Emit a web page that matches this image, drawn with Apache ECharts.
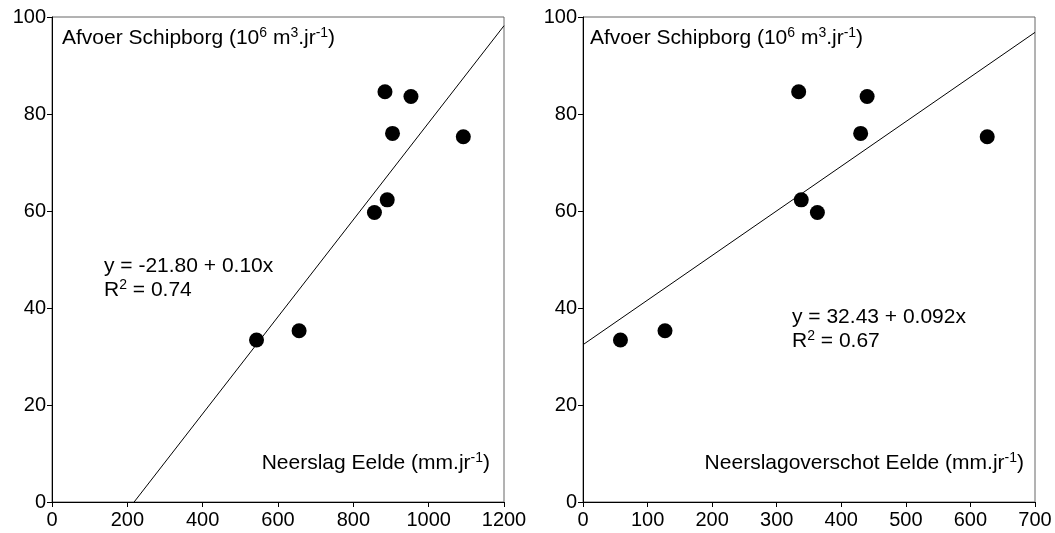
<!DOCTYPE html>
<html>
<head>
<meta charset="utf-8">
<script src="https://cdn.jsdelivr.net/npm/echarts@6/dist/echarts.min.js"></script>
<style>html,body{margin:0;padding:0;background:#fff;}#c{width:1055px;height:533px;}</style>
</head>
<body>
<div id="c"></div>
<script>
// Data
const afvoer = [33.4, 35.3, 59.7, 84.6, 62.3, 76.0, 83.6, 75.3];
const neerslag = [543, 656, 856, 884, 890, 904, 953, 1092];
const neerslagoverschot = [58, 127, 363, 334, 338, 430, 440, 626];
const fitLeft = [[218, 0], [1200, 98.2]];
const fitRight = [[0, 32.43], [700, 96.83]];
const xTicksLeft = {min: 0, max: 1200, interval: 200};
const xTicksRight = {min: 0, max: 700, interval: 100};
const yTicks = {min: 0, max: 100, interval: 20};

const FONT = '"Liberation Sans", Arial, sans-serif';
const leftPts = neerslag.map((x, i) => [x, afvoer[i]]);
const rightPts = neerslagoverschot.map((x, i) => [x, afvoer[i]]);

const rich = {
  n: {fontSize: 21, fontFamily: FONT, color: '#000', lineHeight: 24},
  s: {fontSize: 14, fontFamily: FONT, color: '#000', lineHeight: 14, verticalAlign: 'top'}
};

function axisCommon(extra) {
  return Object.assign({
    type: 'value',
    axisLine: {show: true, onZero: false, lineStyle: {color: '#000', width: 1}},
    axisTick: {show: true, length: 5, inside: false, lineStyle: {color: '#000'}},
    axisLabel: {color: '#000', fontSize: 20, fontFamily: FONT, margin: 6, formatter: v => String(v)},
    splitLine: {show: false}
  }, extra);
}

function txt(x, y, text, align) {
  return {
    type: 'text', x: x, y: y, silent: true,
    style: {text: text, rich: rich, fill: '#000', font: '21px ' + FONT,
      textAlign: align, align: align, textVerticalAlign: 'middle', verticalAlign: 'middle'}
  };
}

const chart = echarts.init(document.getElementById('c'), null, {renderer: 'canvas'});
chart.setOption({
  animation: false,
  backgroundColor: '#fff',
  grid: [
    {left: 52, right: 551, top: 17, bottom: 31, show: true, borderColor: '#666', borderWidth: 1, containLabel: false},
    {left: 583, right: 20, top: 17, bottom: 31, show: true, borderColor: '#666', borderWidth: 1, containLabel: false}
  ],
  xAxis: [
    axisCommon({gridIndex: 0, min: xTicksLeft.min, max: xTicksLeft.max, interval: xTicksLeft.interval,
      axisLabel: {color: '#000', fontSize: 20, fontFamily: FONT, margin: 8, formatter: v => String(v)}}),
    axisCommon({gridIndex: 1, min: xTicksRight.min, max: xTicksRight.max, interval: xTicksRight.interval,
      axisLabel: {color: '#000', fontSize: 20, fontFamily: FONT, margin: 8, formatter: v => String(v)}})
  ],
  yAxis: [
    axisCommon({gridIndex: 0, min: yTicks.min, max: yTicks.max, interval: yTicks.interval}),
    axisCommon({gridIndex: 1, min: yTicks.min, max: yTicks.max, interval: yTicks.interval})
  ],
  series: [
    {type: 'line', xAxisIndex: 0, yAxisIndex: 0, data: fitLeft, symbol: 'none',
      lineStyle: {color: '#000', width: 1}, silent: true},
    {type: 'scatter', xAxisIndex: 0, yAxisIndex: 0, data: leftPts, symbol: 'circle', symbolSize: 15,
      itemStyle: {color: '#000', opacity: 1}},
    {type: 'line', xAxisIndex: 1, yAxisIndex: 1, data: fitRight, symbol: 'none',
      lineStyle: {color: '#000', width: 1}, silent: true},
    {type: 'scatter', xAxisIndex: 1, yAxisIndex: 1, data: rightPts, symbol: 'circle', symbolSize: 15,
      itemStyle: {color: '#000', opacity: 1}}
  ],
  graphic: [
    txt(62, 38, '{n|Afvoer Schipborg (10}{s|6}{n| m}{s|3}{n|.jr}{s|-1}{n|)}', 'left'),
    txt(590, 38, '{n|Afvoer Schipborg (10}{s|6}{n| m}{s|3}{n|.jr}{s|-1}{n|)}', 'left'),
    txt(490, 463, '{n|Neerslag Eelde (mm.jr}{s|-1}{n|)}', 'right'),
    txt(1024, 463, '{n|Neerslagoverschot Eelde (mm.jr}{s|-1}{n|)}', 'right'),
    txt(104, 266, '{n|y = -21.80 + 0.10x}', 'left'),
    txt(104, 290, '{n|R}{s|2}{n| = 0.74}', 'left'),
    txt(792, 317, '{n|y = 32.43 + 0.092x}', 'left'),
    txt(792, 341, '{n|R}{s|2}{n| = 0.67}', 'left')
  ]
});
</script>
</body>
</html>
